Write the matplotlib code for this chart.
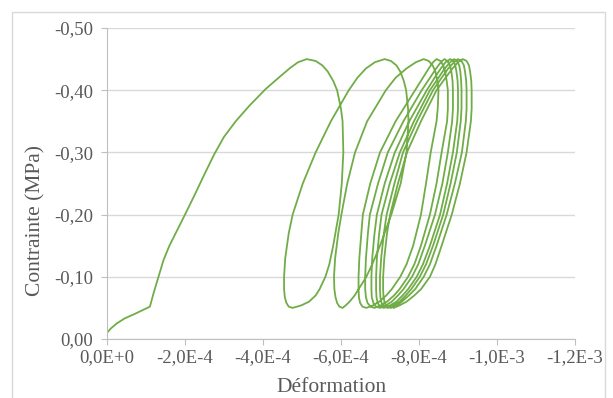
import numpy as np
import matplotlib
matplotlib.use('Agg')
import matplotlib.pyplot as plt
from matplotlib.patches import Rectangle

# strain magnitudes in units of 1e-4 (plotted as negative values), stress magnitudes in MPa
load_eps = [0.0, 0.1, 0.25, 0.45, 0.7, 0.9, 1.1, 1.2, 1.32, 1.45, 1.6, 1.8, 2.0, 2.25, 2.5,
            2.75, 3.0, 3.3, 3.65, 4.07, 4.4, 4.7, 4.9, 5.12]
load_sig = [0.01, 0.017, 0.025, 0.033, 0.04, 0.046, 0.052, 0.075, 0.10, 0.127, 0.15, 0.175, 0.20, 0.232, 0.265,
            0.297, 0.325, 0.35, 0.375, 0.402, 0.42, 0.436, 0.445, 0.45]

unload_sig = [0.45, 0.447, 0.44, 0.43, 0.415, 0.40, 0.37, 0.35, 0.30, 0.25, 0.20, 0.15, 0.12, 0.10,
              0.08, 0.07, 0.06, 0.054, 0.05]
reload_sig = [0.052, 0.058, 0.067, 0.08, 0.10, 0.13, 0.17, 0.20, 0.25, 0.30, 0.35, 0.40, 0.42, 0.435,
              0.445, 0.45]

unload_eps = [
    [5.12, 5.35, 5.52, 5.66, 5.80, 5.90, 6.00, 6.04, 6.06, 6.02, 5.94, 5.80, 5.70, 5.60, 5.45, 5.35, 5.18, 4.98, 4.76],
    [7.12, 7.28, 7.42, 7.52, 7.61, 7.67, 7.72, 7.73, 7.68, 7.53, 7.29, 7.00, 6.80, 6.65, 6.45, 6.35, 6.22, 6.12, 6.04],
    [8.12, 8.25, 8.35, 8.42, 8.47, 8.50, 8.48, 8.45, 8.30, 8.18, 8.05, 7.85, 7.68, 7.52, 7.30, 7.16, 6.98, 6.82, 6.65],
    [8.45, 8.55, 8.62, 8.67, 8.71, 8.74, 8.74, 8.72, 8.58, 8.45, 8.28, 8.05, 7.88, 7.72, 7.50, 7.36, 7.18, 7.02, 6.86],
    [8.65, 8.73, 8.79, 8.83, 8.86, 8.87, 8.87, 8.85, 8.74, 8.60, 8.41, 8.15, 7.98, 7.82, 7.60, 7.46, 7.30, 7.15, 7.00],
    [8.80, 8.88, 8.93, 8.96, 8.99, 9.00, 9.00, 8.98, 8.87, 8.72, 8.54, 8.28, 8.10, 7.94, 7.72, 7.58, 7.42, 7.26, 7.10],
    [8.90, 8.98, 9.03, 9.06, 9.08, 9.09, 9.09, 9.07, 8.97, 8.81, 8.62, 8.36, 8.18, 8.02, 7.80, 7.66, 7.50, 7.35, 7.20],
    [9.00, 9.09, 9.15, 9.18, 9.21, 9.22, 9.22, 9.20, 9.10, 8.92, 8.71, 8.45, 8.28, 8.12, 7.90, 7.74, 7.56, 7.42, 7.28],
    [9.12, 9.22, 9.28, 9.31, 9.34, 9.35, 9.35, 9.33, 9.22, 9.05, 8.84, 8.58, 8.42, 8.28, 8.05, 7.88, 7.68, 7.50, 7.35],
]
reload_eps = [
    [4.66, 4.60, 4.56, 4.54, 4.54, 4.57, 4.66, 4.76, 5.02, 5.35, 5.74, 6.20, 6.42, 6.64, 6.87, 7.12],
    [5.96, 5.90, 5.86, 5.83, 5.82, 5.85, 5.93, 6.01, 6.16, 6.36, 6.67, 7.15, 7.40, 7.68, 7.92, 8.12],
    [6.55, 6.49, 6.46, 6.45, 6.45, 6.47, 6.52, 6.56, 6.75, 7.00, 7.40, 7.90, 8.10, 8.25, 8.36, 8.45],
    [6.76, 6.68, 6.64, 6.62, 6.62, 6.64, 6.69, 6.74, 6.95, 7.20, 7.60, 8.07, 8.28, 8.44, 8.56, 8.65],
    [6.90, 6.83, 6.79, 6.78, 6.78, 6.80, 6.86, 6.92, 7.12, 7.38, 7.75, 8.20, 8.40, 8.56, 8.68, 8.80],
    [7.00, 6.94, 6.91, 6.90, 6.90, 6.92, 6.98, 7.04, 7.25, 7.51, 7.87, 8.28, 8.50, 8.66, 8.80, 8.90],
    [7.10, 7.04, 7.01, 7.00, 7.00, 7.03, 7.10, 7.17, 7.37, 7.59, 7.95, 8.36, 8.58, 8.75, 8.90, 9.00],
    [7.18, 7.12, 7.09, 7.08, 7.08, 7.11, 7.18, 7.26, 7.46, 7.69, 8.05, 8.45, 8.68, 8.86, 9.00, 9.12],
]

x_ticks = [0, -2e-4, -4e-4, -6e-4, -8e-4, -1e-3, -1.2e-3]
y_ticks = [0, -0.1, -0.2, -0.3, -0.4, -0.5]

# build the full path
eps = list(load_eps)
sig = list(load_sig)
for i in range(len(unload_eps)):
    eps += unload_eps[i][1:]
    sig += unload_sig[1:]
    if i < len(reload_eps):
        eps += reload_eps[i]
        sig += reload_sig

x = -np.array(eps) * 1e-4
y = -np.array(sig)

fig = plt.figure(figsize=(6.13, 3.98), dpi=100)
ax = fig.add_axes([107/613, 1-339/398, 468/613, 311/398])

fig.patches.append(Rectangle((12/613, -0.1), 593/613, 1-12/398+0.1, transform=fig.transFigure,
                             fill=False, edgecolor='#d9d9d9', linewidth=1))

ax.plot(x, y, color='#70ad47', linewidth=1.3, solid_joinstyle='round')

ax.set_xlim(0, -1.2e-3)
ax.set_ylim(0, -0.5)
ax.set_xticks(x_ticks)
ax.set_yticks(y_ticks)

def fmt_x(v):
    s = '%.1E' % (v + 0.0)
    mant, exp = s.split('E')
    return mant.replace('.', ',') + 'E' + exp[0] + str(int(exp[1:]))

def fmt_y(v):
    return ('%.2f' % (v + 0.0)).replace('.', ',').replace('-0,00', '0,00')

ax.set_xticklabels([fmt_x(v) for v in x_ticks])
ax.set_yticklabels([fmt_y(v) for v in y_ticks])

font = 'Liberation Serif'
for lab in ax.get_xticklabels() + ax.get_yticklabels():
    lab.set_fontfamily(font)
    lab.set_fontsize(13.5)
    lab.set_color('#595959')

ax.grid(axis='y', color='#d9d9d9', linewidth=1)
ax.set_axisbelow(True)
for s in ['top', 'right']:
    ax.spines[s].set_visible(False)
for s in ['left', 'bottom']:
    ax.spines[s].set_color('#bfbfbf')
ax.tick_params(axis='both', colors='#bfbfbf', length=4, labelcolor='#595959')
ax.tick_params(axis='x', pad=3)
ax.tick_params(axis='y', pad=6)

ax.set_xlabel('Déformation', fontfamily=font, fontsize=15.5, color='#595959')
ax.set_ylabel('Contrainte (MPa)', fontfamily=font, fontsize=15.5, color='#595959')
ax.xaxis.set_label_coords(0.48, -0.127)
ax.yaxis.set_label_coords(-0.132, 0.38)

fig.savefig('out.png', dpi=100)
